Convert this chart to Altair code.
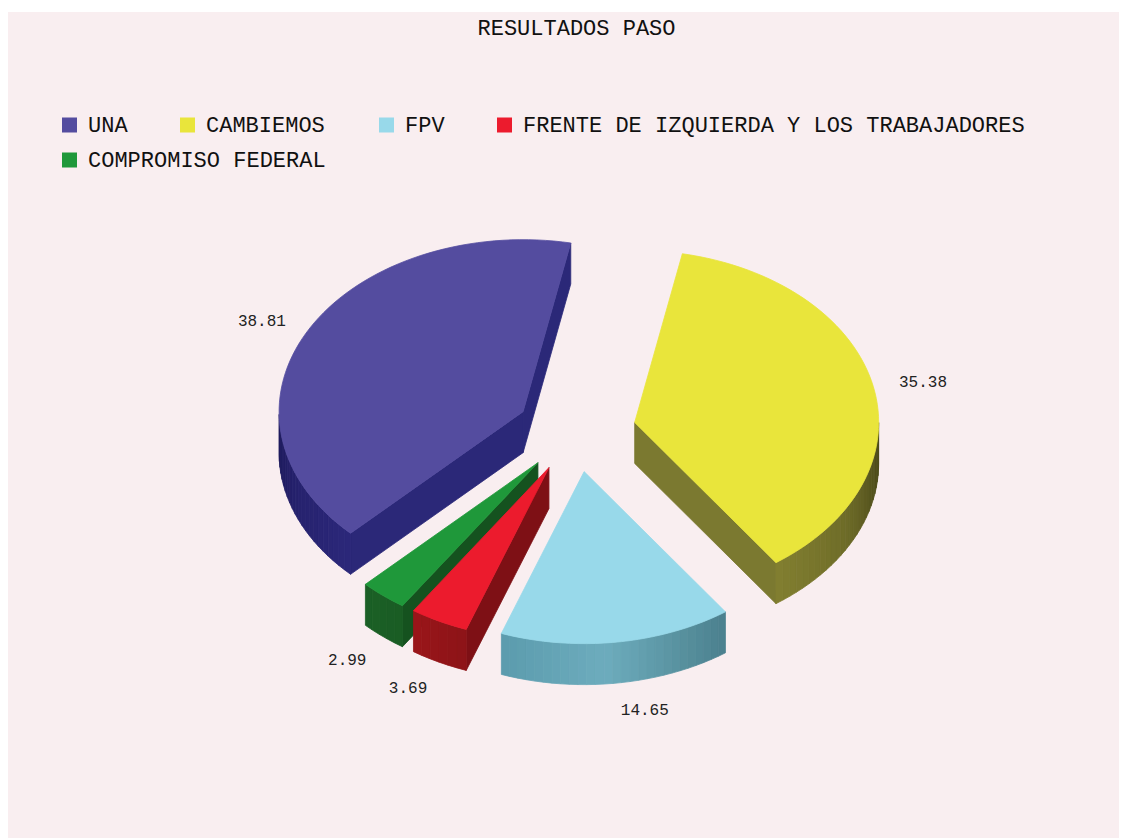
import math
import altair as alt

# ---- chart values ----
parties = ["UNA", "CAMBIEMOS", "FPV", "FRENTE DE IZQUIERDA Y LOS TRABAJADORES", "COMPROMISO FEDERAL"]
values = [38.81, 35.38, 14.65, 3.69, 2.99]
top_colors = ["#544C9F", "#E9E53B", "#98D9EA", "#EC1B2D", "#1F983A"]
cut_colors = ["#2B2878", "#7B7930", "#5B9BAD", "#7E1015", "#15521F"]
wall_stops = [
    [(170, "#1A1650"), (200, "#25216C"), (226, "#2C287A")],
    [(305, "#827F30"), (330, "#6E6C28"), (350, "#504F1C"), (362, "#4A4A18")],
    [(250, "#5B9BAD"), (275, "#6DACBD"), (295, "#568F9C"), (306, "#4A7F8D")],
    [(236, "#9A1519"), (251, "#8C1418")],
    [(224, "#1B6026"), (237, "#1A5C24")],
]

# ---- layout ----
BG = "#F9EEF0"
FONT = "Liberation Mono"
OX, OY = 8, 12
CX, CY = 576, 431
RX, RY = 244, 172
EXPLODE_X, EXPLODE_Y = 60, 41
DEPTH = 41
START = 225.0            # angle where the first slice begins, going clockwise
LABEL_KX, LABEL_KY = 1.2, 1.12
LABEL_NUDGE = {0: -3, 1: 2, 2: 21, 3: -9, 4: -5}
FRONT_LABEL_DROP = 7
DRAW_ORDER = [0, 1, 4, 3, 2]


def lerp_color(stops, t):
    if t <= stops[0][0]:
        return stops[0][1]
    for (t0, c0), (t1, c1) in zip(stops, stops[1:]):
        if t <= t1:
            f = (t - t0) / (t1 - t0)
            a = [int(c0[i:i + 2], 16) for i in (1, 3, 5)]
            b = [int(c1[i:i + 2], 16) for i in (1, 3, 5)]
            return "#%02X%02X%02X" % tuple(round(x + (y - x) * f) for x, y in zip(a, b))
    return stops[-1][1]


def feature(ring, color):
    return {
        "type": "Feature",
        "properties": {"fill": color},
        "geometry": {"type": "Polygon", "coordinates": [ring + [ring[0]]]},
    }


total = sum(values)
slices = []
a = START
for i, v in enumerate(values):
    span = v / total * 360.0
    end = a - span
    mid = math.radians((a + end) / 2)
    c = (CX + EXPLODE_X * math.cos(mid), CY - EXPLODE_Y * math.sin(mid))
    slices.append({"hi": a, "lo": end, "mid": mid, "c": c})
    a = end


def rim(s, t):
    r = math.radians(t)
    return [s["c"][0] + RX * math.cos(r), s["c"][1] - RY * math.sin(r)]


features = []
for i in DRAW_ORDER:
    s = slices[i]
    n = max(2, int((s["hi"] - s["lo"]) / 2))
    ts = [s["lo"] + (s["hi"] - s["lo"]) * k / n for k in range(n + 1)]
    c = list(s["c"])
    m = [s["c"][0] + RX * math.cos(s["mid"]), s["c"][1] - RY * math.sin(s["mid"])]
    # cut walls: only those that face the viewer
    for t in (s["lo"], s["hi"]):
        p = rim(s, t)
        ex, ey = p[0] - c[0], p[1] - c[1]
        side_mid = ex * (m[1] - c[1]) - ey * (m[0] - c[0])
        side_down = ex * DEPTH
        if side_mid * side_down < 0:
            features.append(feature([c, p, [p[0], p[1] + DEPTH], [c[0], c[1] + DEPTH]], cut_colors[i]))
    # outer wall, shaded segment by segment, front half only
    for t0, t1 in zip(ts, ts[1:]):
        tm = (t0 + t1) / 2
        if math.sin(math.radians(tm)) >= 0:
            continue
        p0, p1 = rim(s, t0), rim(s, t1)
        tn = tm + 360 if tm < 0 else tm
        features.append(feature([p0, p1, [p1[0], p1[1] + DEPTH], [p0[0], p0[1] + DEPTH]],
                                lerp_color(wall_stops[i], tn)))
    # top face
    features.append(feature([c] + [rim(s, t) for t in ts], top_colors[i]))

pie = (
    alt.Chart(alt.Data(values={"type": "FeatureCollection", "features": features},
                       format=alt.DataFormat(property="features")))
    .mark_geoshape(strokeWidth=0.8)
    .encode(fill=alt.Fill("properties.fill:N", scale=None, legend=None),
            stroke=alt.Stroke("properties.fill:N", scale=None, legend=None))
    .project(type="identity", scale=1, translate=[-OX, -OY])
)

# value labels placed around each slice
label_rows = []
for i, s in enumerate(slices):
    x = s["c"][0] + RX * LABEL_KX * math.cos(s["mid"]) + LABEL_NUDGE.get(i, 0)
    y = s["c"][1] - RY * LABEL_KY * math.sin(s["mid"])
    if math.sin(s["mid"]) < 0:
        y += DEPTH + FRONT_LABEL_DROP
    label_rows.append({"x": x - OX, "y": y - OY, "t": f"{values[i]:.2f}"})

value_labels = (
    alt.Chart(alt.Data(values=label_rows))
    .mark_text(font=FONT, fontSize=16, color="#222222", align="center", baseline="middle")
    .encode(x=alt.X("x:Q", scale=None, axis=None), y=alt.Y("y:Q", scale=None, axis=None), text="t:N")
)

# legend entries, flowed like the original
legend_x = [62, 180, 379, 497, 62]
legend_y = [125, 125, 125, 125, 160]
legend_rows = [
    {"x": legend_x[i] - OX, "y": legend_y[i] - OY, "t": parties[i], "c": top_colors[i]}
    for i in range(len(parties))
]
legend_sq = (
    alt.Chart(alt.Data(values=legend_rows))
    .mark_square(size=225, opacity=1, filled=True, xOffset=7.5)
    .encode(x=alt.X("x:Q", scale=None, axis=None), y=alt.Y("y:Q", scale=None, axis=None),
            color=alt.Color("c:N", scale=None, legend=None))
)
legend_tx = (
    alt.Chart(alt.Data(values=legend_rows))
    .mark_text(font=FONT, fontSize=22, color="#111111", align="left", baseline="middle", dx=26)
    .encode(x=alt.X("x:Q", scale=None, axis=None), y=alt.Y("y:Q", scale=None, axis=None), text="t:N")
)

chart = (
    alt.layer(pie, value_labels, legend_sq, legend_tx)
    .properties(
        width=1111,
        height=826,
        padding={"left": 0, "right": 0, "top": 4, "bottom": 0},
        autosize=alt.AutoSizeParams(type="none"),
        title=alt.TitleParams("RESULTADOS PASO", font=FONT, fontSize=22, fontWeight="normal",
                              color="#111111", anchor="middle", offset=-28, dx=13),
    )
    .configure_view(fill=BG, strokeWidth=0)
)

chart.save("out.html", embed_options={"renderer": "svg", "actions": False})
